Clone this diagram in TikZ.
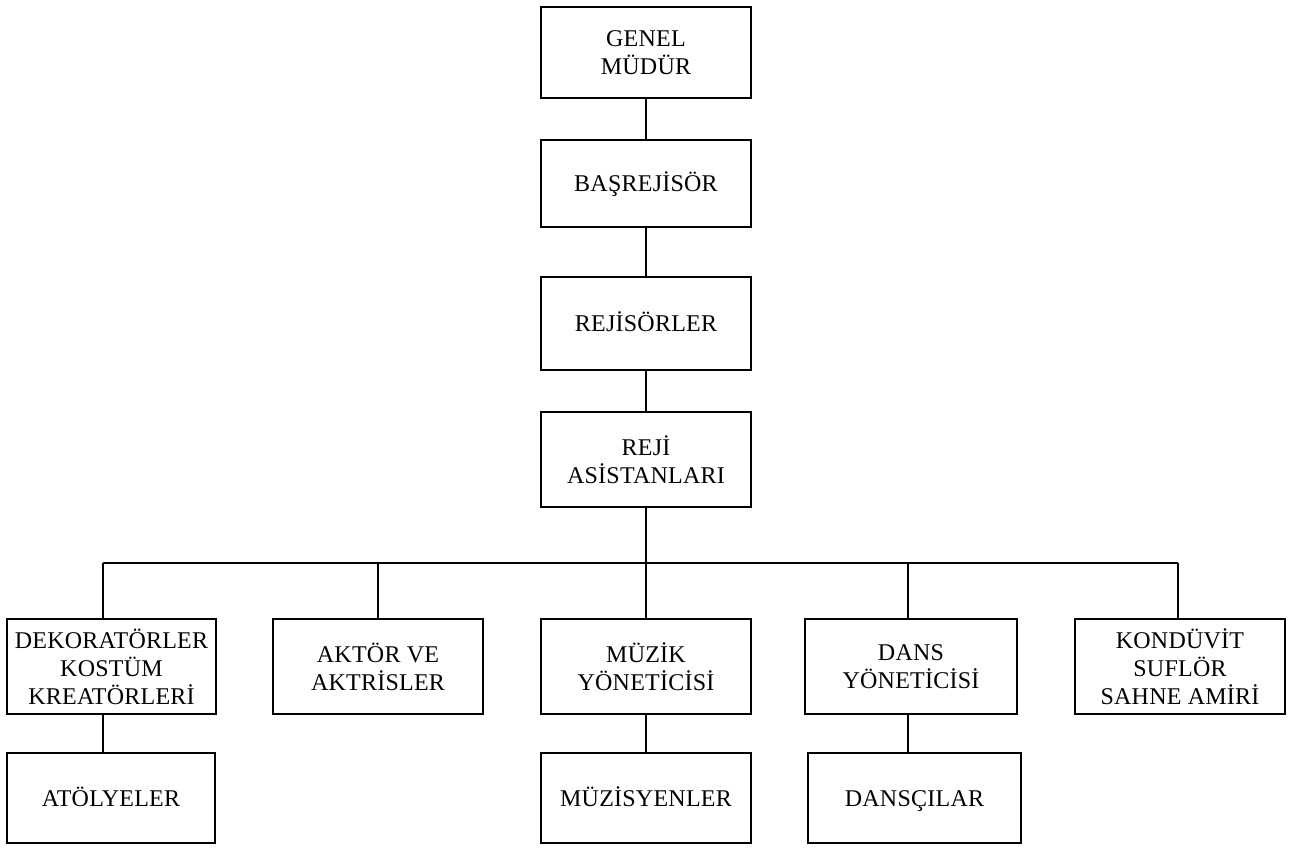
\documentclass[tikz,border=0pt]{standalone}
\usepackage{fontspec}
\setmainfont{Liberation Serif}[LetterSpace=1]
\begin{document}
\begin{tikzpicture}[x=1pt,y=-1pt,
  unit/.style={draw, line width=2pt, inner sep=0pt, align=center,
    font=\fontsize{24}{28}\selectfont, minimum width=#1},
  unit/.default=210pt,
  oneline/.style={text height=16pt, text depth=0pt},
  link/.style={line width=2pt}]
\useasboundingbox (0,0) rectangle (1296,847);

% upper chain
\node[unit, minimum height=91pt] (gm) at (646,52.5) {GENEL\\MÜDÜR};
\node[unit, oneline, minimum height=87pt] (br) at (646,183.5) {BAŞREJİSÖR};
\node[unit, oneline, minimum height=93pt] (rj) at (646,323.5) {REJİSÖRLER};
\node[unit, minimum height=95pt] (ra) at (646,459.5) {REJİ\\ASİSTANLARI};

% second level
\node[unit=209pt, minimum height=95pt] (dk) at (111.5,666.5) {DEKORATÖRLER\\KOSTÜM\\KREATÖRLERİ};
\node[unit, minimum height=95pt] (ak) at (378,666.5) {AKTÖR VE\\AKTRİSLER};
\node[unit, minimum height=95pt] (mu) at (646,666.5) {MÜZİK\\YÖNETİCİSİ};
\node[unit=212pt, minimum height=95pt] (dy) at (911,666.5) {DANS\\YÖNETİCİSİ};
\node[unit, minimum height=95pt] (kd) at (1180,666.5) {KONDÜVİT\\SUFLÖR\\SAHNE AMİRİ};

% third level
\node[unit=208pt, oneline, minimum height=90pt] (at) at (111,798) {ATÖLYELER};
\node[unit, oneline, minimum height=90pt] (mz) at (646,798) {MÜZİSYENLER};
\node[unit=213pt, oneline, minimum height=90pt] (dc) at (914.5,798) {DANSÇILAR};

% distribution bus and drop points
\coordinate (cd) at (103,563);
\coordinate (ca) at (378,563);
\coordinate (cm) at (646,563);
\coordinate (cy) at (908,563);
\coordinate (ck) at (1178,563);

\draw[link] (gm) -- (br);
\draw[link] (br) -- (rj);
\draw[link] (rj) -- (ra);
\draw[link] (ra) -- (cm);
\draw[link] (cd) -- (ck);
\draw[link] (cd) -- (cd |- dk.north);
\draw[link] (ca) -- (ca |- ak.north);
\draw[link] (cm) -- (mu);
\draw[link] (cy) -- (cy |- dy.north);
\draw[link] (ck) -- (ck |- kd.north);
\draw[link] (dk.south -| cd) -- (at.north -| cd);
\draw[link] (mu) -- (mz);
\draw[link] (dy.south -| cy) -- (dc.north -| cy);
\end{tikzpicture}
\end{document}
